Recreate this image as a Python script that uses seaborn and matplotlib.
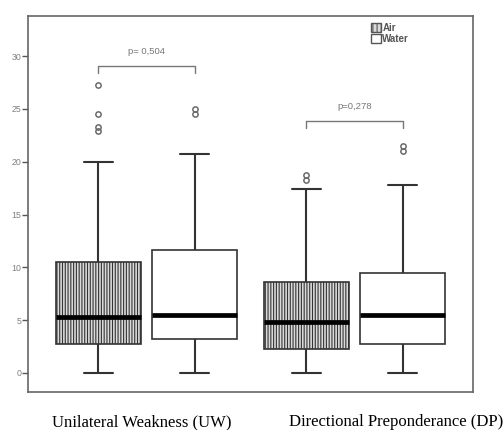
import numpy as np
import pandas as pd
import matplotlib
matplotlib.use("Agg")
import matplotlib.pyplot as plt
import matplotlib.patches as mpatches
import seaborn as sns

# ---- data (five-number summaries + outliers) ----
groups = ["Unilateral Weakness (UW)", "Unilateral Weakness (UW)",
          "Directional Preponderance (DP)", "Directional Preponderance (DP)"]
methods = ["Air", "Water", "Air", "Water"]
whisker_low = [0.0, 0.0, 0.0, 0.0]
q1 = [2.7, 3.2, 2.3, 2.7]
median = [5.3, 5.5, 4.8, 5.5]
q3 = [10.5, 11.6, 8.6, 9.5]
whisker_high = [20.0, 20.7, 17.4, 17.8]
outliers = [[22.9, 23.3, 24.5, 27.3], [24.5, 25.0], [18.3, 18.7], [21.0, 21.5]]
p_labels = ["p= 0,504", "p=0,278"]
y_ticks = [0, 5, 10, 15, 20, 25, 30]

# Rebuild samples whose quartiles/whiskers equal the values above
rows = []
m = 10
for g, meth, lo, a, md, b, hi, out in zip(groups, methods, whisker_low, q1, median,
                                          q3, whisker_high, outliers):
    vals = [lo] + [a] * m + [md] * m + [b] * m + [hi] + list(out)
    for v in vals:
        rows.append({"group": g, "method": meth, "value": v})
df = pd.DataFrame(rows)

sns.set_theme(style="white")
plt.rcParams["font.family"] = ["Liberation Sans", "DejaVu Sans"]
plt.rcParams["hatch.color"] = "#808080"
plt.rcParams["hatch.linewidth"] = 0.8

fig = plt.figure(figsize=(5.04, 4.30), dpi=100)
ax = fig.add_axes([28 / 504, 1 - 392 / 430, 445 / 504, 376 / 430])

order = ["Unilateral Weakness (UW)", "Directional Preponderance (DP)"]
sns.boxplot(data=df, x="group", y="value", hue="method", order=order,
            hue_order=["Air", "Water"], palette={"Air": "#dadada", "Water": "white"},
            width=0.93, gap=0.12, whis=1.5, linecolor="#333333", linewidth=1.2,
            fliersize=3.8, saturation=1, ax=ax, legend=False,
            capwidths=0.14,
            medianprops=dict(color="black", linewidth=3.4),
            whiskerprops=dict(color="#333333", linewidth=1.5),
            capprops=dict(color="#333333", linewidth=1.5),
            flierprops=dict(marker="o", markerfacecolor="none",
                            markeredgecolor="#6a6a6a", markeredgewidth=1.1))

for patch in ax.patches:
    fc = patch.get_facecolor()
    if fc[0] < 0.95:
        patch.set_hatch("||||||")

ax.set_xlim(-0.57, 1.57)
ax.set_ylim(-1.8, 33.8)
ax.set_yticks(y_ticks)
ax.set_yticklabels([str(t) for t in y_ticks], fontsize=6.3, color="#808080")
ax.tick_params(axis="y", direction="out", length=4, width=1, color="#555555", pad=1, left=True)
ax.set_xticks([])
ax.set_xlabel("")
ax.set_ylabel("")
for s in ax.spines.values():
    s.set_color("#666666")
    s.set_linewidth(1.2)
    s.set_visible(True)

# significance brackets
def bracket(x1, x2, y_top, y_end, label, ty):
    ax.plot([x1, x1, x2, x2], [y_end, y_top, y_top, y_end], color="#777777", lw=1)
    ax.text((x1 + x2) / 2, ty, label, ha="center", va="center", fontsize=6.8,
            color="#777777")

bracket(-0.233, 0.233, 29.1, 28.4, p_labels[0], 30.4)
bracket(0.767, 1.233, 23.9, 23.2, p_labels[1], 25.2)

# legend
handles = [mpatches.Patch(facecolor="#dadada", edgecolor="#555555", hatch="||||", label="Air"),
           mpatches.Patch(facecolor="white", edgecolor="#555555", label="Water")]
leg = ax.legend(handles=handles, loc="upper left", bbox_to_anchor=(0.755, 1.0),
                frameon=False, fontsize=7, handlelength=1.0, handleheight=1.0,
                handletextpad=0.2, labelspacing=0.1, borderaxespad=0.3)
for t in leg.get_texts():
    t.set_color("#555555")
    t.set_fontweight("bold")

# category labels
fig.text(142 / 504, 1 - 422 / 430, order[0], ha="center", va="center",
         fontsize=12, family="Liberation Serif", color="black")
fig.text(396 / 504, 1 - 422 / 430, order[1], ha="center", va="center",
         fontsize=12, family="Liberation Serif", color="black")

fig.savefig("out.png", dpi=100)
